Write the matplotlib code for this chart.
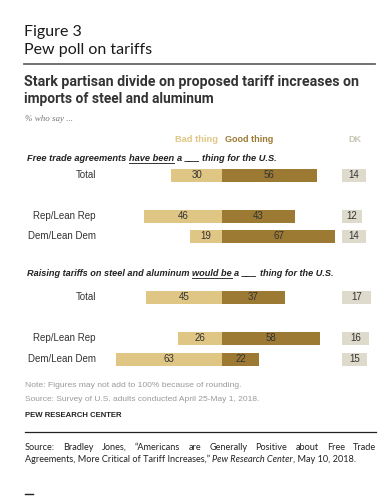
import matplotlib
matplotlib.use('Agg')
import matplotlib.pyplot as plt

groups = ['Total', 'Rep/Lean Rep', 'Dem/Lean Dem']
ft_bad = [30, 46, 19]
ft_good = [56, 43, 67]
ft_dk = [14, 12, 14]
tar_bad = [45, 26, 63]
tar_good = [37, 58, 22]
tar_dk = [17, 16, 15]

BAD = '#dfc684'
GOOD = '#9c7a33'
DKC = '#dedbcc'
TXT = '#333333'
SANS = 'Liberation Sans'
HUMAN = 'Lato'

W, H = 392, 496
fig = plt.figure(figsize=(W / 100, H / 100), dpi=100)
# background axes in pixel units, for text and rules
bg = fig.add_axes([0, 0, 1, 1])
bg.set_xlim(0, W)
bg.set_ylim(H, 0)
bg.axis('off')
# bar axes: x in percent, y in pixels
PX = 1.69
ZERO = 222
DK_OFF = 71
ax = fig.add_axes([0, 0, 1, 1])
ax.set_xlim(-ZERO / PX, (W - ZERO) / PX)
ax.set_ylim(H, 0)
ax.axis('off')

rend = fig.canvas.get_renderer()


def width(t):
    return t.get_window_extent(renderer=rend).width


def measure(s, **kw):
    t = bg.text(0, -50, s, **kw)
    w = width(t)
    t.remove()
    return w


def fit(x, y, s, target, **kw):
    # shrink / grow the font so the text spans the target width
    size = kw.pop('fontsize')
    size *= target / measure(s, fontsize=size, **kw)
    return bg.text(x, y, s, fontsize=size, va='baseline', **kw)


def runs(x, y, pieces, target=None, ul_color=TXT, **kw):
    # pieces: (text, underline) drawn one after another
    if target:
        full = ' '.join(p for p, _ in pieces)
        kw['fontsize'] *= target / measure(full, **kw)
    space = measure('a a', **kw) - measure('aa', **kw)
    for txt, ul in pieces:
        t = bg.text(x, y, txt, va='baseline', **kw)
        w = width(t)
        if ul:
            bg.plot([x, x + w], [y + 1.5, y + 1.5], color=ul_color, lw=0.7)
        x += w + space
    return x


def justify(x0, x1, y, words, **kw):
    ts = [bg.text(0, y, w, va='baseline', **kw) for w in words]
    ws = [width(t) for t in ts]
    gap = (x1 - x0 - sum(ws)) / (len(words) - 1)
    x = x0
    for t, w in zip(ts, ws):
        t.set_x(x)
        x += w + gap


# header
bg.text(24, 36, 'Figure 3', fontsize=11.5, family=HUMAN, color='#1a1a1a', va='baseline')
bg.text(24, 54, 'Pew poll on tariffs', fontsize=11.5, family=HUMAN, color='#1a1a1a', va='baseline')
bg.plot([24, 375], [64, 64], color='#666666', lw=1.3)

title_kw = dict(fontsize=10, family='Roboto', weight='bold', color=TXT)
fit(24, 86, 'Stark partisan divide on proposed tariff increases on', 333, **title_kw)
fit(24, 103, 'imports of steel and aluminum', 190, **title_kw)
bg.text(25, 121, '% who say ...', fontsize=6.5, family='Liberation Serif', style='italic',
        color='#777777', va='baseline')

# legend
leg_kw = dict(fontsize=6.5, family=SANS, weight='bold')
fit(175, 142, 'Bad thing', 43, color=BAD, **leg_kw)
fit(225, 142, 'Good thing', 48, color=GOOD, **leg_kw)
fit(348, 142, 'DK', 13, color='#c9c6b6', **leg_kw)

sec_kw = dict(fontsize=6.3, family=SANS, weight='bold', style='italic', color='#222222')
runs(27, 161, [('Free trade agreements', False), ('have been', True), ('a', False),
               ('___', False), ('thing for the U.S.', False)], target=249, **sec_kw)
runs(27, 276, [('Raising tariffs on steel and aluminum', False), ('would be', True), ('a', False),
               ('___', False), ('thing for the U.S.', False)], target=306, **sec_kw)

rows1 = [175, 216, 236]
rows2 = [297, 338, 359]
BH = 13


def section(rows, bad, good, dk):
    ax.barh(rows, [-b for b in bad], height=BH, color=BAD)
    ax.barh(rows, good, height=BH, color=GOOD)
    ax.barh(rows, dk, left=DK_OFF, height=BH, color=DKC)
    for y, g, b, gd, d in zip(rows, groups, bad, good, dk):
        bg.text(96, y, g, fontsize=7, family=SANS, color=TXT, ha='right', va='center')
        ax.text(-b / 2, y, str(b), fontsize=7, family=SANS, color=TXT, ha='center', va='center')
        ax.text(gd / 2, y, str(gd), fontsize=7, family=SANS, color=TXT, ha='center', va='center')
        ax.text(DK_OFF + d / 2, y, str(d), fontsize=7, family=SANS, color=TXT,
                ha='center', va='center')


section(rows1, ft_bad, ft_good, ft_dk)
section(rows2, tar_bad, tar_good, tar_dk)

# notes
note_kw = dict(fontsize=5.6, family=SANS, color='#999999')
fit(25, 387, 'Note: Figures may not add to 100% because of rounding.', 215, **note_kw)
fit(25, 401, 'Source: Survey of U.S. adults conducted April 25-May 1, 2018.', 233, **note_kw)
fit(25, 417, 'PEW RESEARCH CENTER', 96, fontsize=5.6, family=SANS, weight='bold', color='#222222')
bg.plot([25, 376], [432, 432], color='#222222', lw=0.9)

src_kw = dict(fontsize=6.6, family=HUMAN, color='#222222')
justify(25, 376, 450, 'Source: Bradley Jones, \u201cAmericans are Generally Positive about Free Trade'.split(),
        **src_kw)
x2 = runs(25, 462, [('Agreements, More Critical of Tariff Increases,\u201d', False)], **src_kw)
x3 = runs(x2, 462, [('Pew Research Center', False)], style='italic', **src_kw)
bg.text(x3 - measure('a a', **src_kw) + measure('aa', **src_kw), 462, ', May 10, 2018.',
        va='baseline', **src_kw)

bg.plot([25, 33], [494, 494], color='#222222', lw=1)

fig.savefig('out.png', dpi=100)
